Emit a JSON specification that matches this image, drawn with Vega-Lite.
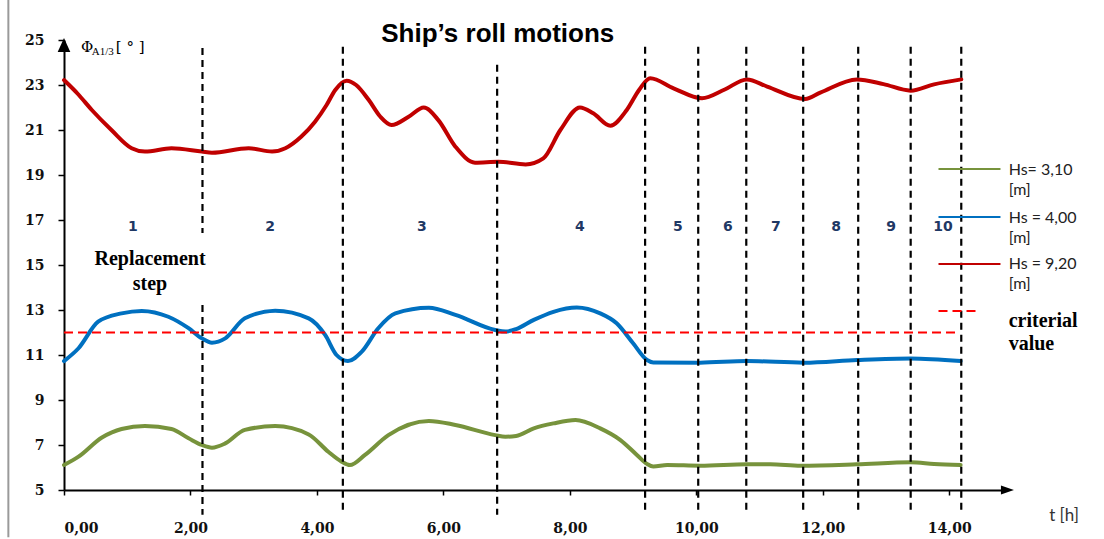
{
  "$schema": "https://vega.github.io/schema/vega-lite/v6.json",
  "autosize": {"type": "none"},
  "width": 939,
  "height": 450,
  "padding": {"left": 64, "top": 40, "right": 101, "bottom": 49},
  "background": "#ffffff",
  "config": {"view": {"stroke": null}, "axis": {"grid": false}},
  "datasets": {
    "one": [{}],
    "curves": [
      {"s": "Hs = 9,20", "t": 0.0, "v": 23.22},
      {"s": "Hs = 9,20", "t": 0.22, "v": 22.6},
      {"s": "Hs = 9,20", "t": 0.44, "v": 21.89},
      {"s": "Hs = 9,20", "t": 0.75, "v": 21.0},
      {"s": "Hs = 9,20", "t": 1.07, "v": 20.19},
      {"s": "Hs = 9,20", "t": 1.28, "v": 20.04},
      {"s": "Hs = 9,20", "t": 1.7, "v": 20.19},
      {"s": "Hs = 9,20", "t": 2.18, "v": 20.04},
      {"s": "Hs = 9,20", "t": 2.34, "v": 19.99},
      {"s": "Hs = 9,20", "t": 2.92, "v": 20.19},
      {"s": "Hs = 9,20", "t": 3.29, "v": 20.04},
      {"s": "Hs = 9,20", "t": 3.5, "v": 20.19},
      {"s": "Hs = 9,20", "t": 3.75, "v": 20.7},
      {"s": "Hs = 9,20", "t": 3.97, "v": 21.37},
      {"s": "Hs = 9,20", "t": 4.15, "v": 22.1},
      {"s": "Hs = 9,20", "t": 4.29, "v": 22.78},
      {"s": "Hs = 9,20", "t": 4.47, "v": 23.19},
      {"s": "Hs = 9,20", "t": 4.62, "v": 23.0},
      {"s": "Hs = 9,20", "t": 4.82, "v": 22.33},
      {"s": "Hs = 9,20", "t": 5.0, "v": 21.6},
      {"s": "Hs = 9,20", "t": 5.18, "v": 21.22},
      {"s": "Hs = 9,20", "t": 5.45, "v": 21.59},
      {"s": "Hs = 9,20", "t": 5.69, "v": 22.0},
      {"s": "Hs = 9,20", "t": 5.92, "v": 21.44},
      {"s": "Hs = 9,20", "t": 6.19, "v": 20.26},
      {"s": "Hs = 9,20", "t": 6.5, "v": 19.55},
      {"s": "Hs = 9,20", "t": 6.87, "v": 19.59},
      {"s": "Hs = 9,20", "t": 7.3, "v": 19.47},
      {"s": "Hs = 9,20", "t": 7.58, "v": 19.74},
      {"s": "Hs = 9,20", "t": 7.85, "v": 21.0},
      {"s": "Hs = 9,20", "t": 8.16, "v": 22.0},
      {"s": "Hs = 9,20", "t": 8.37, "v": 21.74},
      {"s": "Hs = 9,20", "t": 8.64, "v": 21.19},
      {"s": "Hs = 9,20", "t": 8.9, "v": 21.89},
      {"s": "Hs = 9,20", "t": 9.1, "v": 22.8},
      {"s": "Hs = 9,20", "t": 9.27, "v": 23.3},
      {"s": "Hs = 9,20", "t": 9.64, "v": 22.85},
      {"s": "Hs = 9,20", "t": 10.09, "v": 22.41},
      {"s": "Hs = 9,20", "t": 10.45, "v": 22.8},
      {"s": "Hs = 9,20", "t": 10.8, "v": 23.25},
      {"s": "Hs = 9,20", "t": 11.12, "v": 22.93},
      {"s": "Hs = 9,20", "t": 11.72, "v": 22.38},
      {"s": "Hs = 9,20", "t": 11.96, "v": 22.66},
      {"s": "Hs = 9,20", "t": 12.54, "v": 23.25},
      {"s": "Hs = 9,20", "t": 12.96, "v": 23.04},
      {"s": "Hs = 9,20", "t": 13.39, "v": 22.75},
      {"s": "Hs = 9,20", "t": 13.76, "v": 23.03},
      {"s": "Hs = 9,20", "t": 14.19, "v": 23.25},
      {"s": "Hs = 4,00", "t": 0.0, "v": 10.73},
      {"s": "Hs = 4,00", "t": 0.23, "v": 11.3},
      {"s": "Hs = 4,00", "t": 0.54, "v": 12.48},
      {"s": "Hs = 4,00", "t": 0.91, "v": 12.85},
      {"s": "Hs = 4,00", "t": 1.23, "v": 12.96},
      {"s": "Hs = 4,00", "t": 1.65, "v": 12.7},
      {"s": "Hs = 4,00", "t": 1.97, "v": 12.19},
      {"s": "Hs = 4,00", "t": 2.18, "v": 11.74},
      {"s": "Hs = 4,00", "t": 2.34, "v": 11.55},
      {"s": "Hs = 4,00", "t": 2.55, "v": 11.74},
      {"s": "Hs = 4,00", "t": 2.86, "v": 12.63},
      {"s": "Hs = 4,00", "t": 3.34, "v": 12.97},
      {"s": "Hs = 4,00", "t": 3.87, "v": 12.63},
      {"s": "Hs = 4,00", "t": 4.13, "v": 11.89},
      {"s": "Hs = 4,00", "t": 4.31, "v": 11.0},
      {"s": "Hs = 4,00", "t": 4.49, "v": 10.73},
      {"s": "Hs = 4,00", "t": 4.71, "v": 11.15},
      {"s": "Hs = 4,00", "t": 4.97, "v": 12.19},
      {"s": "Hs = 4,00", "t": 5.24, "v": 12.85},
      {"s": "Hs = 4,00", "t": 5.77, "v": 13.1},
      {"s": "Hs = 4,00", "t": 6.19, "v": 12.78},
      {"s": "Hs = 4,00", "t": 6.82, "v": 12.11},
      {"s": "Hs = 4,00", "t": 6.98, "v": 12.04},
      {"s": "Hs = 4,00", "t": 7.15, "v": 12.15},
      {"s": "Hs = 4,00", "t": 7.43, "v": 12.56},
      {"s": "Hs = 4,00", "t": 7.74, "v": 12.92},
      {"s": "Hs = 4,00", "t": 8.11, "v": 13.11},
      {"s": "Hs = 4,00", "t": 8.48, "v": 12.85},
      {"s": "Hs = 4,00", "t": 8.74, "v": 12.41},
      {"s": "Hs = 4,00", "t": 9.0, "v": 11.52},
      {"s": "Hs = 4,00", "t": 9.22, "v": 10.78},
      {"s": "Hs = 4,00", "t": 9.32, "v": 10.67},
      {"s": "Hs = 4,00", "t": 10.06, "v": 10.66},
      {"s": "Hs = 4,00", "t": 10.8, "v": 10.73},
      {"s": "Hs = 4,00", "t": 11.7, "v": 10.66},
      {"s": "Hs = 4,00", "t": 12.54, "v": 10.78},
      {"s": "Hs = 4,00", "t": 13.39, "v": 10.85},
      {"s": "Hs = 4,00", "t": 14.18, "v": 10.73},
      {"s": "Hs= 3,10", "t": 0.0, "v": 6.11},
      {"s": "Hs= 3,10", "t": 0.23, "v": 6.48},
      {"s": "Hs= 3,10", "t": 0.6, "v": 7.33},
      {"s": "Hs= 3,10", "t": 0.91, "v": 7.71},
      {"s": "Hs= 3,10", "t": 1.28, "v": 7.84},
      {"s": "Hs= 3,10", "t": 1.7, "v": 7.71},
      {"s": "Hs= 3,10", "t": 1.97, "v": 7.3},
      {"s": "Hs= 3,10", "t": 2.18, "v": 7.0},
      {"s": "Hs= 3,10", "t": 2.34, "v": 6.88},
      {"s": "Hs= 3,10", "t": 2.55, "v": 7.07},
      {"s": "Hs= 3,10", "t": 2.86, "v": 7.67},
      {"s": "Hs= 3,10", "t": 3.34, "v": 7.84},
      {"s": "Hs= 3,10", "t": 3.87, "v": 7.47},
      {"s": "Hs= 3,10", "t": 4.18, "v": 6.7},
      {"s": "Hs= 3,10", "t": 4.39, "v": 6.26},
      {"s": "Hs= 3,10", "t": 4.52, "v": 6.11},
      {"s": "Hs= 3,10", "t": 4.76, "v": 6.56},
      {"s": "Hs= 3,10", "t": 5.13, "v": 7.44},
      {"s": "Hs= 3,10", "t": 5.77, "v": 8.07},
      {"s": "Hs= 3,10", "t": 6.19, "v": 7.89},
      {"s": "Hs= 3,10", "t": 6.82, "v": 7.44},
      {"s": "Hs= 3,10", "t": 6.98, "v": 7.37},
      {"s": "Hs= 3,10", "t": 7.15, "v": 7.4},
      {"s": "Hs= 3,10", "t": 7.43, "v": 7.74},
      {"s": "Hs= 3,10", "t": 7.74, "v": 7.96},
      {"s": "Hs= 3,10", "t": 8.09, "v": 8.11},
      {"s": "Hs= 3,10", "t": 8.48, "v": 7.74},
      {"s": "Hs= 3,10", "t": 8.8, "v": 7.22},
      {"s": "Hs= 3,10", "t": 9.06, "v": 6.56},
      {"s": "Hs= 3,10", "t": 9.22, "v": 6.16},
      {"s": "Hs= 3,10", "t": 9.32, "v": 6.04},
      {"s": "Hs= 3,10", "t": 9.54, "v": 6.11},
      {"s": "Hs= 3,10", "t": 10.06, "v": 6.08},
      {"s": "Hs= 3,10", "t": 10.8, "v": 6.14},
      {"s": "Hs= 3,10", "t": 11.17, "v": 6.14},
      {"s": "Hs= 3,10", "t": 11.65, "v": 6.08},
      {"s": "Hs= 3,10", "t": 12.54, "v": 6.14},
      {"s": "Hs= 3,10", "t": 13.39, "v": 6.23},
      {"s": "Hs= 3,10", "t": 13.76, "v": 6.16},
      {"s": "Hs= 3,10", "t": 14.18, "v": 6.11}
    ],
    "vlines": [
      {"t": 2.19, "from": 24.64, "to": 16.42},
      {"t": 2.19, "from": 13.22, "to": 3.9},
      {"t": 4.41, "from": 24.7, "to": 3.9},
      {"t": 6.85, "from": 23.9, "to": 3.9},
      {"t": 9.19, "from": 24.7, "to": 3.9},
      {"t": 10.03, "from": 24.7, "to": 3.9},
      {"t": 10.79, "from": 24.7, "to": 3.9},
      {"t": 11.69, "from": 24.7, "to": 3.9},
      {"t": 12.56, "from": 24.7, "to": 3.9},
      {"t": 13.39, "from": 24.7, "to": 3.9},
      {"t": 14.19, "from": 24.7, "to": 3.9}
    ],
    "steps": [
      {"n": "1", "t": 1.09},
      {"n": "2", "t": 3.26},
      {"n": "3", "t": 5.66},
      {"n": "4", "t": 8.16},
      {"n": "5", "t": 9.71},
      {"n": "6", "t": 10.5},
      {"n": "7", "t": 11.26},
      {"n": "8", "t": 12.21},
      {"n": "9", "t": 13.08},
      {"n": "10", "t": 13.9}
    ]
  },
  "layer": [
    {
      "data": {"name": "curves"},
      "mark": {"type": "line", "interpolate": "monotone", "strokeWidth": 4, "strokeCap": "round", "strokeJoin": "round"},
      "encoding": {
        "x": {"field": "t", "type": "quantitative",
          "scale": {"domain": [0, 14.85], "nice": false, "zero": false},
          "axis": {"title": null, "values": [0, 2, 4, 6, 8, 10, 12, 14],
            "labelExpr": "replace(format(datum.value, '.2f'), '.', ',')",
            "domainColor": "#000000", "domainWidth": 2, "tickColor": "#000000", "tickWidth": 1.5, "tickSize": 5,
            "labelPadding": 26, "labelFont": "DejaVu Serif", "labelFontWeight": "bold", "labelFontSize": 14, "labelColor": "#111111", "grid": false}},
        "y": {"field": "v", "type": "quantitative",
          "scale": {"domain": [5, 25], "nice": false, "zero": false},
          "axis": {"title": null, "values": [5, 7, 9, 11, 13, 15, 17, 19, 21, 23, 25],
            "domainColor": "#000000", "domainWidth": 2, "tickColor": "#000000", "tickWidth": 1.5, "tickSize": 6,
            "labelPadding": 14, "labelFont": "DejaVu Serif", "labelFontWeight": "bold", "labelFontSize": 14, "labelColor": "#111111", "grid": false}},
        "color": {"field": "s", "type": "nominal",
          "scale": {"domain": ["Hs= 3,10", "Hs = 4,00", "Hs = 9,20"], "range": ["#77933C", "#0070C0", "#C00000"]},
          "legend": null}
      }
    },
    {
      "data": {"name": "one"},
      "mark": {"type": "rule", "color": "#9a9a9a", "strokeWidth": 2},
      "encoding": {
        "x": {"datum": -0.88, "type": "quantitative"},
        "y": {"datum": 26.9, "type": "quantitative"},
        "y2": {"datum": 2.9}
      }
    },
    {
      "data": {"name": "one"},
      "mark": {"type": "rule", "color": "#FF0000", "strokeWidth": 2, "strokeDash": [9, 5]},
      "encoding": {
        "x": {"datum": 0, "type": "quantitative"},
        "x2": {"datum": 14.12},
        "y": {"datum": 12, "type": "quantitative"}
      }
    },
    {
      "data": {"name": "vlines"},
      "mark": {"type": "rule", "color": "#000000", "strokeWidth": 2.2, "strokeDash": [7, 5]},
      "encoding": {
        "x": {"field": "t", "type": "quantitative"},
        "y": {"field": "from", "type": "quantitative"},
        "y2": {"field": "to"}
      }
    },
    {
      "data": {"name": "one"},
      "mark": {"type": "point", "filled": true, "color": "#000000", "opacity": 1, "size": 196, "shape": "M0,-1L-0.9,1L0.9,1Z", "strokeWidth": 0},
      "encoding": {
        "x": {"datum": 0, "type": "quantitative"},
        "y": {"datum": 24.78, "type": "quantitative"}
      }
    },
    {
      "data": {"name": "one"},
      "mark": {"type": "point", "filled": true, "color": "#000000", "opacity": 1, "size": 169, "shape": "M1,0L-1,-0.7L-1,0.7Z", "strokeWidth": 0},
      "encoding": {
        "x": {"datum": 14.92, "type": "quantitative"},
        "y": {"datum": 5, "type": "quantitative"}
      }
    },
    {
      "data": {"name": "steps"},
      "mark": {"type": "text", "font": "DejaVu Sans", "fontWeight": "bold", "fontSize": 14, "color": "#1F3864", "align": "center", "baseline": "middle"},
      "encoding": {
        "x": {"field": "t", "type": "quantitative"},
        "y": {"datum": 16.69, "type": "quantitative"},
        "text": {"field": "n"}
      }
    },
    {
      "data": {"name": "one"},
      "mark": {"type": "text", "text": "Ship’s roll motions", "font": "Liberation Sans", "fontWeight": "bold", "fontSize": 26, "color": "#000000", "align": "center", "baseline": "alphabetic"},
      "encoding": {
        "x": {"datum": 6.86, "type": "quantitative"},
        "y": {"datum": 24.91, "type": "quantitative"}
      }
    },
    {
      "data": {"name": "one"},
      "mark": {"type": "text", "text": "Replacement\nstep", "lineBreak": "\n", "lineHeight": 25, "font": "Liberation Serif", "fontWeight": "bold", "fontSize": 20, "color": "#000000", "align": "center", "baseline": "alphabetic"},
      "encoding": {
        "x": {"datum": 1.36, "type": "quantitative"},
        "y": {"datum": 15.0, "type": "quantitative"}
      }
    },
    {
      "data": {"name": "one"},
      "mark": {"type": "text", "text": "Φ", "font": "DejaVu Serif", "fontSize": 15, "color": "#000000", "align": "left", "baseline": "alphabetic"},
      "encoding": {
        "x": {"datum": 0.27, "type": "quantitative"},
        "y": {"datum": 24.47, "type": "quantitative"}
      }
    },
    {
      "data": {"name": "one"},
      "mark": {"type": "text", "text": "A1/3", "font": "Liberation Serif", "fontSize": 11, "color": "#000000", "align": "left", "baseline": "alphabetic"},
      "encoding": {
        "x": {"datum": 0.44, "type": "quantitative"},
        "y": {"datum": 24.35, "type": "quantitative"}
      }
    },
    {
      "data": {"name": "one"},
      "mark": {"type": "text", "text": "[ ° ]", "font": "DejaVu Serif", "fontSize": 15, "color": "#000000", "align": "left", "baseline": "alphabetic"},
      "encoding": {
        "x": {"datum": 0.82, "type": "quantitative"},
        "y": {"datum": 24.47, "type": "quantitative"}
      }
    },
    {
      "data": {"name": "one"},
      "mark": {"type": "text", "text": "t [h]", "font": "Lato", "fontSize": 17, "color": "#333333", "align": "left", "baseline": "alphabetic"},
      "encoding": {
        "x": {"datum": 15.58, "type": "quantitative"},
        "y": {"datum": 3.62, "type": "quantitative"}
      }
    },
    {
      "data": {"name": "one"},
      "mark": {"type": "rule", "color": "#77933C", "strokeWidth": 2},
      "encoding": {
        "x": {"datum": 13.83, "type": "quantitative"},
        "x2": {"datum": 14.81},
        "y": {"datum": 19.27, "type": "quantitative"}
      }
    },
    {
      "data": {"name": "one"},
      "mark": {"type": "rule", "color": "#0070C0", "strokeWidth": 2},
      "encoding": {
        "x": {"datum": 13.83, "type": "quantitative"},
        "x2": {"datum": 14.81},
        "y": {"datum": 17.13, "type": "quantitative"}
      }
    },
    {
      "data": {"name": "one"},
      "mark": {"type": "rule", "color": "#C00000", "strokeWidth": 2},
      "encoding": {
        "x": {"datum": 13.83, "type": "quantitative"},
        "x2": {"datum": 14.81},
        "y": {"datum": 15.04, "type": "quantitative"}
      }
    },
    {
      "data": {"name": "one"},
      "mark": {"type": "rule", "color": "#FF0000", "strokeWidth": 2, "strokeDash": [9, 5]},
      "encoding": {
        "x": {"datum": 13.83, "type": "quantitative"},
        "x2": {"datum": 14.49},
        "y": {"datum": 12.96, "type": "quantitative"}
      }
    },
    {
      "data": {"name": "one"},
      "mark": {"type": "text", "text": "Hs= 3,10\n[m]", "lineBreak": "\n", "lineHeight": 20, "font": "Lato", "fontSize": 16, "color": "#222222", "align": "left", "baseline": "alphabetic"},
      "encoding": {
        "x": {"datum": 14.94, "type": "quantitative"},
        "y": {"datum": 19.0, "type": "quantitative"}
      }
    },
    {
      "data": {"name": "one"},
      "mark": {"type": "text", "text": "Hs = 4,00\n[m]", "lineBreak": "\n", "lineHeight": 20, "font": "Lato", "fontSize": 16, "color": "#222222", "align": "left", "baseline": "alphabetic"},
      "encoding": {
        "x": {"datum": 14.94, "type": "quantitative"},
        "y": {"datum": 16.88, "type": "quantitative"}
      }
    },
    {
      "data": {"name": "one"},
      "mark": {"type": "text", "text": "Hs = 9,20\n[m]", "lineBreak": "\n", "lineHeight": 20, "font": "Lato", "fontSize": 16, "color": "#222222", "align": "left", "baseline": "alphabetic"},
      "encoding": {
        "x": {"datum": 14.94, "type": "quantitative"},
        "y": {"datum": 14.81, "type": "quantitative"}
      }
    },
    {
      "data": {"name": "one"},
      "mark": {"type": "text", "text": "criterial\nvalue", "lineBreak": "\n", "lineHeight": 23, "font": "Liberation Serif", "fontWeight": "bold", "fontSize": 20, "color": "#000000", "align": "left", "baseline": "alphabetic"},
      "encoding": {
        "x": {"datum": 14.94, "type": "quantitative"},
        "y": {"datum": 12.24, "type": "quantitative"}
      }
    }
  ]
}
